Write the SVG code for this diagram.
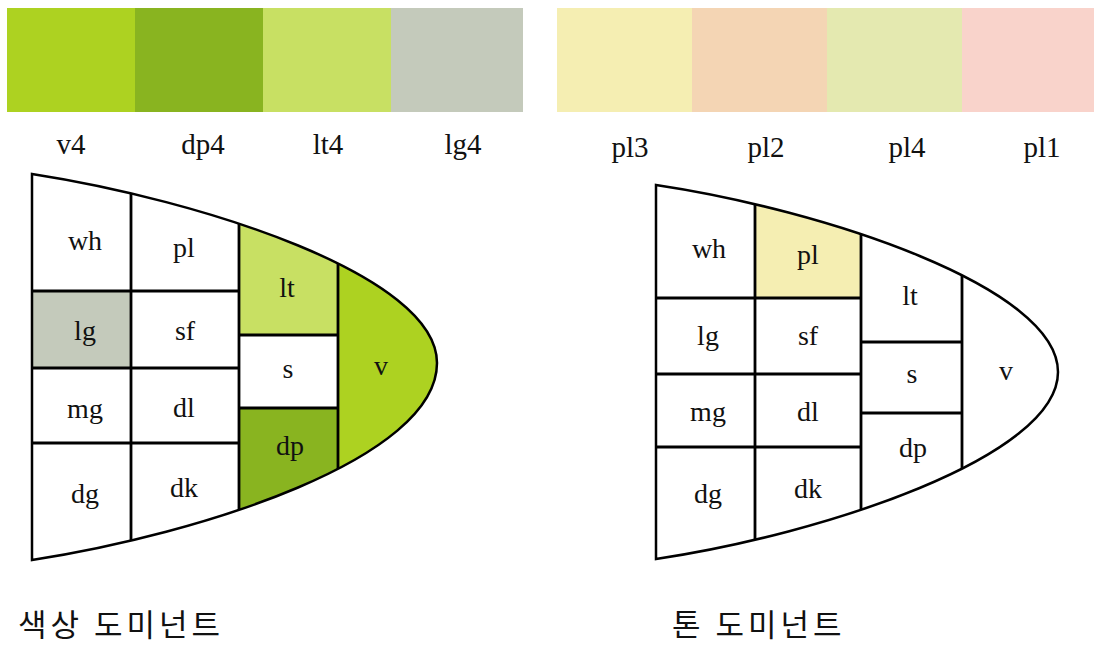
<svg xmlns="http://www.w3.org/2000/svg" width="1094" height="647" viewBox="0 0 1094 647">
  <style>
    .lbl { font-family: "Liberation Serif", "Noto Sans CJK KR", serif; font-size: 28px; fill: #111; text-anchor: middle; }
    .sw { font-family: "Liberation Serif", "Noto Sans CJK KR", serif; font-size: 29px; fill: #111; text-anchor: middle; }
    .title { font-family: "Noto Sans CJK KR", sans-serif; font-size: 31px; letter-spacing: 4px; fill: #111; }
    .div { stroke: #000; stroke-width: 2.8; }
    .outline { fill: none; stroke: #000; stroke-width: 2.5; stroke-linejoin: miter; }
  </style>
  <defs>
    <path id="hueShape" d="M32,174 C200,200 437,275 437,363 C437,459 200,534 32,560 Z"/>
    <path id="toneShape" d="M656,185 C823,210 1058,287 1058,372 C1058,457 823,534 656,559 Z"/>
    <clipPath id="hueClip"><use href="#hueShape"/></clipPath>
    <clipPath id="toneClip"><use href="#toneShape"/></clipPath>
  </defs>

  <rect width="1094" height="647" fill="#fff"/>

  <!-- colour swatches -->
  <g id="swatches-hue">
    <rect x="7" y="8" width="128" height="104" fill="#ADD221"/>
    <rect x="135" y="8" width="128" height="104" fill="#89B420"/>
    <rect x="263" y="8" width="128" height="104" fill="#C8E063"/>
    <rect x="391" y="8" width="132" height="104" fill="#C4CABB"/>
    <text class="sw" x="71" y="154">v4</text>
    <text class="sw" x="203" y="154">dp4</text>
    <text class="sw" x="328" y="154">lt4</text>
    <text class="sw" x="463" y="154">lg4</text>
  </g>
  <g id="swatches-tone">
    <rect x="557" y="8" width="135" height="104" fill="#F5EEB2"/>
    <rect x="692" y="8" width="135" height="104" fill="#F4D5B4"/>
    <rect x="827" y="8" width="135" height="104" fill="#E4E9B0"/>
    <rect x="962" y="8" width="132" height="104" fill="#F9D3CB"/>
    <text class="sw" x="630" y="157">pl3</text>
    <text class="sw" x="766" y="157">pl2</text>
    <text class="sw" x="907" y="157">pl4</text>
    <text class="sw" x="1042" y="157">pl1</text>
  </g>

  <!-- hue-dominant tone map -->
  <g id="hue-map">
    <use href="#hueShape" fill="#fff"/>
    <g clip-path="url(#hueClip)">
      <g id="hue-wh"><text class="lbl" x="85" y="250">wh</text></g>
      <g id="hue-pl"><text class="lbl" x="184" y="257">pl</text></g>
      <g id="hue-lt"><rect x="239" y="150" width="99" height="185" fill="#C8E063"/><text class="lbl" x="287" y="297">lt</text></g>
      <g id="hue-lg"><rect x="32" y="291" width="99" height="77" fill="#C4CABB"/><text class="lbl" x="85" y="340">lg</text></g>
      <g id="hue-sf"><text class="lbl" x="185" y="340">sf</text></g>
      <g id="hue-s"><text class="lbl" x="288" y="378">s</text></g>
      <g id="hue-v"><rect x="338" y="150" width="110" height="430" fill="#ADD221"/><text class="lbl" x="381" y="375">v</text></g>
      <g id="hue-mg"><text class="lbl" x="85" y="418">mg</text></g>
      <g id="hue-dl"><text class="lbl" x="184" y="417">dl</text></g>
      <g id="hue-dp"><rect x="239" y="408" width="99" height="170" fill="#89B420"/><text class="lbl" x="290" y="455">dp</text></g>
      <g id="hue-dg"><text class="lbl" x="85" y="503">dg</text></g>
      <g id="hue-dk"><text class="lbl" x="184" y="497">dk</text></g>
      <g id="hue-dividers" class="div">
        <line x1="131" y1="150" x2="131" y2="580"/>
        <line x1="239" y1="150" x2="239" y2="580"/>
        <line x1="338" y1="150" x2="338" y2="580"/>
        <line x1="32" y1="291" x2="239" y2="291"/>
        <line x1="32" y1="368" x2="239" y2="368"/>
        <line x1="32" y1="443" x2="239" y2="443"/>
        <line x1="239" y1="335" x2="338" y2="335"/>
        <line x1="239" y1="408" x2="338" y2="408"/>
      </g>
    </g>
    <use href="#hueShape" class="outline"/>
  </g>

  <!-- tone-dominant tone map -->
  <g id="tone-map">
    <use href="#toneShape" fill="#fff"/>
    <g clip-path="url(#toneClip)">
      <g id="tone-wh"><text class="lbl" x="709" y="258">wh</text></g>
      <g id="tone-pl"><rect x="755" y="160" width="106" height="138" fill="#F5EEB2"/><text class="lbl" x="808" y="264">pl</text></g>
      <g id="tone-lt"><text class="lbl" x="910" y="305">lt</text></g>
      <g id="tone-lg"><text class="lbl" x="708" y="345">lg</text></g>
      <g id="tone-sf"><text class="lbl" x="808" y="345">sf</text></g>
      <g id="tone-s"><text class="lbl" x="912" y="383">s</text></g>
      <g id="tone-v"><text class="lbl" x="1006" y="380">v</text></g>
      <g id="tone-mg"><text class="lbl" x="708" y="421">mg</text></g>
      <g id="tone-dl"><text class="lbl" x="808" y="421">dl</text></g>
      <g id="tone-dp"><text class="lbl" x="913" y="457">dp</text></g>
      <g id="tone-dg"><text class="lbl" x="708" y="503">dg</text></g>
      <g id="tone-dk"><text class="lbl" x="808" y="498">dk</text></g>
      <g id="tone-dividers" class="div">
        <line x1="755" y1="160" x2="755" y2="580"/>
        <line x1="861" y1="160" x2="861" y2="580"/>
        <line x1="962" y1="160" x2="962" y2="580"/>
        <line x1="656" y1="298" x2="861" y2="298"/>
        <line x1="656" y1="374" x2="861" y2="374"/>
        <line x1="656" y1="447" x2="861" y2="447"/>
        <line x1="861" y1="342" x2="962" y2="342"/>
        <line x1="861" y1="413" x2="962" y2="413"/>
      </g>
    </g>
    <use href="#toneShape" class="outline"/>
  </g>

  <!-- captions -->
  <text class="title" x="18" y="636">색상 도미넌트</text>
  <text class="title" x="672" y="636">톤 도미넌트</text>
</svg>
